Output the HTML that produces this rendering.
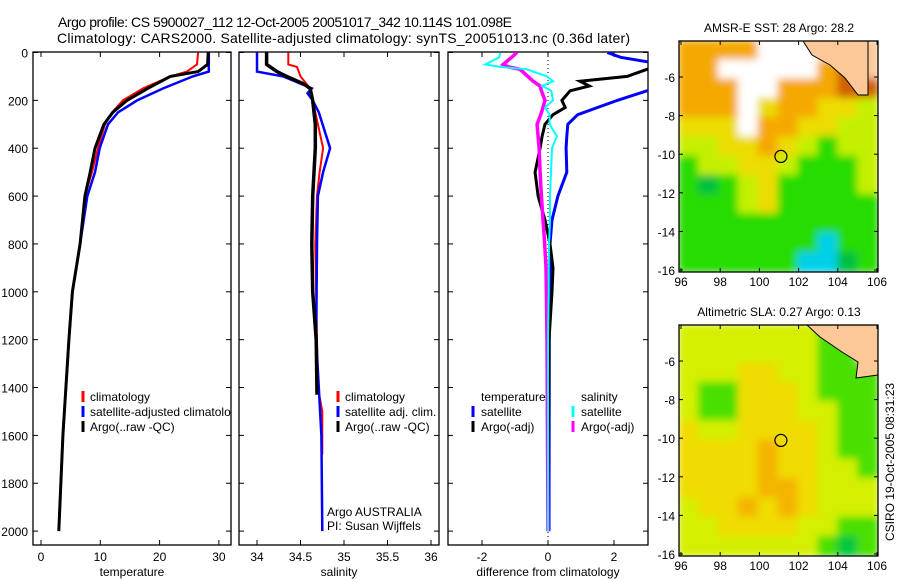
<!DOCTYPE html>
<html><head><meta charset="utf-8"><style>
html,body{margin:0;padding:0;background:#fff}
svg{display:block;font-family:"Liberation Sans",sans-serif}
</style></head><body>
<svg id="fig" width="900" height="580" viewBox="0 0 900 580" xmlns="http://www.w3.org/2000/svg">
<defs>
<filter id="blur" x="-5%" y="-5%" width="110%" height="110%"><feGaussianBlur stdDeviation="4"/></filter>
<clipPath id="c1"><rect x="33" y="52" width="198" height="493"/></clipPath>
<clipPath id="c2"><rect x="239" y="52" width="200" height="493"/></clipPath>
<clipPath id="c3"><rect x="448" y="52" width="200" height="493"/></clipPath>
<clipPath id="cm1"><rect x="679" y="41" width="199" height="231"/></clipPath>
<clipPath id="cm2"><rect x="679" y="325" width="199" height="231"/></clipPath>
</defs>
<text x="58" y="27" font-size="14" textLength="454">Argo profile: CS 5900027_112 12-Oct-2005 20051017_342 10.114S 101.098E</text>
<text x="57" y="43" font-size="14" textLength="573">Climatology: CARS2000. Satellite-adjusted climatology: synTS_20051013.nc (0.36d later)</text>
<g id="panels"></g>
<g id="maps"></g>
<text transform="translate(894,462) rotate(-90)" text-anchor="middle" font-size="12">CSIRO 19-Oct-2005 08:31:23</text>
</svg>
<script>
// ---------- DATA ----------
const tDepth = [0,50,80,100,150,200,250,300,400,500,600,800,1000,1200,1600,2000];
const tClim  = [26.5,26.3,24.6,21.8,17.2,13.8,12.0,10.8,9.6,8.6,7.4,6.6,5.3,4.7,3.7,3.0];
const tSat   = [28.3,28.3,28.3,25.6,20.6,16.2,13.0,11.3,9.9,9.1,7.8,6.6,5.3,4.7,3.7,3.0];
const tArgo  = [28.2,28.1,26.5,21.8,18.0,14.5,12.1,10.6,9.1,8.3,7.4,6.6,5.3,4.7,3.7,3.0];

const sClimDepth = [0,50,60,100,150,200,300,400,500,600,800,1200,1400,1500,1680];
const sClim      = [34.36,34.36,34.46,34.5,34.61,34.64,34.7,34.76,34.72,34.69,34.67,34.69,34.7,34.75,34.75];
const sSatDepth  = [0,80,100,150,170,200,250,400,500,600,800,1200,1600,2000];
const sSat       = [34.0,34.0,34.3,34.63,34.58,34.64,34.71,34.84,34.76,34.7,34.69,34.68,34.74,34.75];
const sArgoDepth = [0,50,80,100,130,150,200,300,400,600,800,1000,1200,1430];
const sArgo      = [34.11,34.11,34.23,34.34,34.53,34.61,34.64,34.67,34.67,34.64,34.63,34.64,34.68,34.69];

const dDepth   = [0,20,50,60,70,100,120,140,160,200,230,260,300,350,400,500,600,700,800,900,1000,1200,2000];
const dTempSat = [1.8,2.2,3.5,3.5,3.5,3.5,3.5,3.5,3.0,2.1,1.5,0.9,0.6,0.57,0.55,0.57,0.3,0.12,0.06,0.06,0.05,0.04,0.03];
const dTempArgo= [3.6,3.6,3.5,3.3,3.0,2.4,0.97,1.25,0.67,0.42,0.52,0.15,-0.09,-0.18,-0.24,-0.39,-0.3,-0.09,0.06,0.15,0.12,0.03,0.0];
const dSalSat  = [-1.45,-1.48,-1.9,-1.45,-0.64,-0.03,0.15,-0.18,0.1,0.15,-0.09,0.05,0.05,0.27,0.12,0.09,0.06,0.06,0.03,0.02,0.02,0.0,0.0];
const dSalArgo = [-0.94,-1.1,-1.36,-1.2,-0.85,-0.61,-0.45,-0.24,-0.2,-0.09,-0.15,-0.22,-0.33,-0.3,-0.27,-0.24,-0.2,-0.15,-0.1,-0.06,-0.05,-0.03,0.0];

const depthTicks = [0,200,400,600,800,1000,1200,1400,1600,1800,2000];
const tTicks = [0,10,20,30];
const sTicks = [34,34.5,35,35.5,36];
const dTicks = [-2,0,2];

// map grids (rows top->bottom, 10 columns west->east)
const sstGrid = [
 "OOOOWWWWRB","OOWWWWWORB","OOOWWOOORR","OOOWYOOYYL","YYYWOOYYLL",
 "LLYYOYLGLL","GLLYYLGGGL","GDGLYGGGGL","GGGLYGGGGG","GGGGGGGGGG","GGGGGGGCGG","GGGGGGCCDG"];
const slaGrid = [
 "LLLLLLLGGB","LLLLLLLGGB","LLLYYLLGGG","LGGYYYLGGG","LGGYYYLLGG",
 "YLLYYYYLGG","YYYYOYYLGG","YYYYOYYLLG","YYYYOOYLLL","LYYOYOYLLL","LLYYYYLLGG","LLLLLLLGDG"];
const latTicks = [-6,-8,-10,-12,-14,-16];
const lonTicks = [96,98,100,102,104,106];
const argoLon = 101.098, argoLat = -10.114;

// ---------- HELPERS ----------
const NS = "http://www.w3.org/2000/svg";
function mk(tag, attrs, parent){const e=document.createElementNS(NS,tag);for(const k in attrs)e.setAttribute(k,attrs[k]);parent.appendChild(e);return e;}
const yD = d => 52.5 + d*0.2393;
const panels = document.getElementById('panels');

function line(parent, xs, ds, xf, color, w, name, clip){
  const pts = xs.map((v,i)=>xf(v).toFixed(1)+","+yD(ds[i]).toFixed(1)).join(" ");
  const p = mk('polyline',{points:pts,fill:'none',stroke:color,'stroke-width':w,'stroke-linejoin':'miter','clip-path':'url(#'+clip+')'},parent);
  
  
}

function frame(x0,x1,xf,ticks,label,name,yLabels){
  const g = mk('g',{},panels);
  
  
  const r = mk('rect',{x:x0,y:52,width:x1-x0,height:493,fill:'none',stroke:'#000','stroke-width':1.3},g);
  
  
  depthTicks.forEach(d=>{
    mk('line',{x1:x0,x2:x0+5,y1:yD(d),y2:yD(d),stroke:'#000'},g);
    mk('line',{x1:x1,x2:x1-5,y1:yD(d),y2:yD(d),stroke:'#000'},g);
    if(yLabels){const t=mk('text',{x:28,y:yD(d)+5,'font-size':12,'text-anchor':'end'},g);t.textContent=d;
      
      }
  });
  ticks.forEach(v=>{
    mk('line',{x1:xf(v),x2:xf(v),y1:52,y2:57,stroke:'#000'},g);
    mk('line',{x1:xf(v),x2:xf(v),y1:545,y2:540,stroke:'#000'},g);
    const t=mk('text',{x:xf(v),y:561,'font-size':12,'text-anchor':'middle'},g);t.textContent=v;
    
    
  });
  const xl=mk('text',{x:(x0+x1)/2,y:576,'font-size':12,'text-anchor':'middle'},g);xl.textContent=label;
  
  
  return g;
}
function legendRow(g,x,y,color,text,name,tx){
  mk('line',{x1:x,x2:x,y1:y-10,y2:y+1,stroke:color,'stroke-width':3},g);
  const t=mk('text',{x:tx!==undefined?tx:x+7,y:y,'font-size':12},g);t.textContent=text;
  
  
}

// ---------- PANEL 1: temperature ----------
const xT = v => 41 + v*5.93;
const g1 = frame(33,231,xT,tTicks,'temperature','temperature-panel',true);
line(g1,tClim,tDepth,xT,'#f00',2,'temperature-climatology-line','c1');
line(g1,tSat,tDepth,xT,'#00f',2.5,'temperature-satellite-line','c1');
line(g1,tArgo,tDepth,xT,'#000',3,'temperature-argo-line','c1');
const lg1 = mk('g',{'clip-path':'url(#c1)'},g1);


legendRow(lg1,83,401,'#f00','climatology','legend-climatology');
legendRow(lg1,83,416,'#00f','satellite-adjusted climatology','legend-satellite-adjusted');
legendRow(lg1,83,431,'#000','Argo(..raw -QC)','legend-argo');

// ---------- PANEL 2: salinity ----------
const xS = v => 257 + (v-34)*87;
const g2 = frame(239,439,xS,sTicks,'salinity','salinity-panel',false);
line(g2,sClim,sClimDepth,xS,'#f00',2,'salinity-climatology-line','c2');
line(g2,sSat,sSatDepth,xS,'#00f',2.5,'salinity-satellite-line','c2');
line(g2,sArgo,sArgoDepth,xS,'#000',3.5,'salinity-argo-line','c2');
legendRow(g2,338,401,'#f00','climatology','legend-climatology');
legendRow(g2,338,416,'#00f','satellite adj. clim.','legend-satellite-adj');
legendRow(g2,338,431,'#000','Argo(..raw -QC)','legend-argo');
const a1=mk('text',{x:327,y:516,'font-size':12},g2);a1.textContent='Argo AUSTRALIA';


const a2=mk('text',{x:327,y:530,'font-size':12},g2);a2.textContent='PI: Susan Wijffels';



// ---------- PANEL 3: differences ----------
const xDf = v => 548 + v*33;
const g3 = frame(448,648,xDf,dTicks,'difference from climatology','difference-panel',false);
const zl = mk('line',{x1:xDf(0),x2:xDf(0),y1:52,y2:545,stroke:'#000','stroke-dasharray':'1,3'},g3);


line(g3,dTempSat,dDepth,xDf,'#00f',3,'temp-satellite-diff-line','c3');
line(g3,dTempArgo,dDepth,xDf,'#000',3,'temp-argo-diff-line','c3');
line(g3,dSalArgo,dDepth,xDf,'#f0f',3.5,'sal-argo-diff-line','c3');
line(g3,dSalSat,dDepth,xDf,'#0ff',2,'sal-satellite-diff-line','c3');
const th=mk('text',{x:481,y:401,'font-size':12},g3);th.textContent='temperature';


const sh=mk('text',{x:581,y:401,'font-size':12},g3);sh.textContent='salinity';


legendRow(g3,473,416,'#00f','satellite','legend-temp-satellite',481);
legendRow(g3,473,431,'#000','Argo(-adj)','legend-temp-argo',481);
legendRow(g3,573,416,'#0ff','satellite','legend-sal-satellite',581);
legendRow(g3,573,431,'#f0f','Argo(-adj)','legend-sal-argo',581);

// ---------- MAPS ----------
const maps = document.getElementById('maps');
const sstCol = {O:'#f5a800',Y:'#ecdc00',L:'#c4f000',G:'#28dc00',D:'#00c040',C:'#00d0e8',W:'#ffffff',B:'#fdc898',R:'#d06000'};
const slaCol = {O:'#f5b400',Y:'#f0dc00',L:'#d4f000',G:'#48e000',D:'#00c840',B:'#fdc898'};
function drawMap(grid,cols,top,title,clip,land,name){
  const g = mk('g',{},maps);
  
  
  const x0=679,w=199,h=231;
  const lonX = lon => 681 + (lon-96)*19.6;
  const latY = lat => top + 36 + (-6-lat)*19.3;
  const cg = mk('g',{'clip-path':'url(#'+clip+')'},g);
  const bg = mk('g',{filter:'url(#blur)'},cg);
  const cw=w/10, ch=h/12;
  grid.forEach((row,r)=>{[...row].forEach((c,k)=>{
    const cell=mk('rect',{x:x0+k*cw-1,y:top+r*ch-1,width:cw+2,height:ch+2,fill:cols[c]},bg);
    
    
  });});
  const ld=mk('polygon',{points:land,fill:'#fdc898',stroke:'#000','stroke-width':1},cg);
  
  
  const mk1=mk('circle',{cx:lonX(argoLon),cy:latY(argoLat),r:6,fill:'none',stroke:'#000','stroke-width':1.2},g);
  
  
  mk('rect',{x:x0,y:top,width:w,height:h,fill:'none',stroke:'#000','stroke-width':1.3},g);
  latTicks.forEach(l=>{
    mk('line',{x1:x0,x2:x0+4,y1:latY(l),y2:latY(l),stroke:'#000'},g);
    mk('line',{x1:x0+w,x2:x0+w-4,y1:latY(l),y2:latY(l),stroke:'#000'},g);
    const t=mk('text',{x:675,y:latY(l)+5,'font-size':12,'text-anchor':'end'},g);t.textContent=l;
    
    
  });
  lonTicks.forEach(l=>{
    mk('line',{x1:lonX(l),x2:lonX(l),y1:top+h,y2:top+h-4,stroke:'#000'},g);
    mk('line',{x1:lonX(l),x2:lonX(l),y1:top,y2:top+4,stroke:'#000'},g);
    const t=mk('text',{x:lonX(l),y:top+h+14,'font-size':12,'text-anchor':'middle'},g);t.textContent=l;
    
    
  });
  const tt=mk('text',{x:779,y:top-9,'font-size':12,'text-anchor':'middle'},g);tt.textContent=title;
  
  
}
drawMap(sstGrid,sstCol,41,'AMSR-E SST: 28 Argo: 28.2','cm1',
  '803,41 812,55 830,65 845,78 858,95 868,95 868,41','sst-map');
drawMap(slaGrid,slaCol,325,'Altimetric SLA: 0.27 Argo: 0.13','cm2',
  '807,325 820,337 842,352 858,362 856,378 878,375 878,325','sla-map');
</script>
</body></html>
